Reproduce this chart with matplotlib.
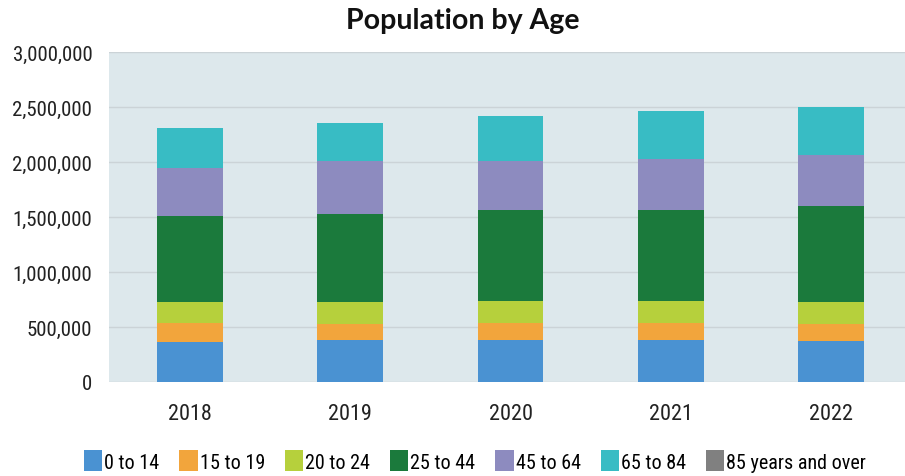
import numpy as np
import matplotlib
matplotlib.use("Agg")
import matplotlib.pyplot as plt
from matplotlib.ticker import FuncFormatter

# Population by age group, per year
years = ["2018", "2019", "2020", "2021", "2022"]
groups = ["0 to 14", "15 to 19", "20 to 24", "25 to 44", "45 to 64", "65 to 84", "85 years and over"]
age_0_14 = [366000, 384000, 384000, 384000, 375000]
age_15_19 = [173000, 146000, 155000, 155000, 155000]
age_20_24 = [192000, 201000, 201000, 201000, 201000]
age_25_44 = [777000, 796000, 823000, 823000, 869000]
age_45_64 = [439000, 484000, 448000, 466000, 466000]
age_65_84 = [365000, 347000, 411000, 439000, 438000]
age_85_up = [0, 0, 0, 0, 0]

colors = ["#4a92d2", "#f2a53c", "#b6d03c", "#1b7a3c", "#8d8bbf", "#38bcc4", "#808080"]

labelfont = ["Roboto Condensed", "DejaVu Sans Condensed", "Liberation Sans Narrow", "Roboto"]

fig = plt.figure(figsize=(9.05, 4.77), dpi=100)
ax = fig.add_axes([109 / 905, 1 - 383 / 477, 796 / 905, 330 / 477])
ax.set_facecolor("#dde8ec")

x = np.arange(len(years))
bottom = np.zeros(len(years))
series = [age_0_14, age_15_19, age_20_24, age_25_44, age_45_64, age_65_84, age_85_up]
for name, vals, c in zip(groups, series, colors):
    ax.bar(x, vals, width=0.41, bottom=bottom, color=c, label=name, zorder=3)
    bottom += np.array(vals)

ax.set_ylim(0, 3000000)
ax.set_xlim(-0.505, 4.46)
ax.set_yticks(np.arange(0, 3000001, 500000))
ax.yaxis.set_major_formatter(FuncFormatter(lambda v, p: f"{int(v):,}"))
ax.set_xticks(x)
ax.set_xticklabels(years)
ax.grid(axis="y", color="#cbd3d7", linewidth=1, zorder=0)
for s in ax.spines.values():
    s.set_visible(False)
ax.tick_params(length=0)
ax.tick_params(axis="x", pad=15, labelsize=16)
ax.tick_params(axis="y", pad=12, labelsize=15)
for lbl in ax.get_xticklabels() + ax.get_yticklabels():
    lbl.set_family(labelfont)
    lbl.set_color("#222222")

fig.text(463 / 905, 1 - 21 / 477, "Population by Age", ha="center", va="center",
         fontsize=20.5, fontweight="bold", family=["Lato", "DejaVu Sans"], color="#111111")

leg = fig.legend(loc="center", bbox_to_anchor=(475 / 905, 1 - 462 / 477), ncol=7, frameon=False,
                 prop={"family": labelfont, "size": 14.5}, handlelength=0.9, handleheight=1.2,
                 handletextpad=0.1, columnspacing=1.0)

fig.savefig("out.png", dpi=100, facecolor="white")
